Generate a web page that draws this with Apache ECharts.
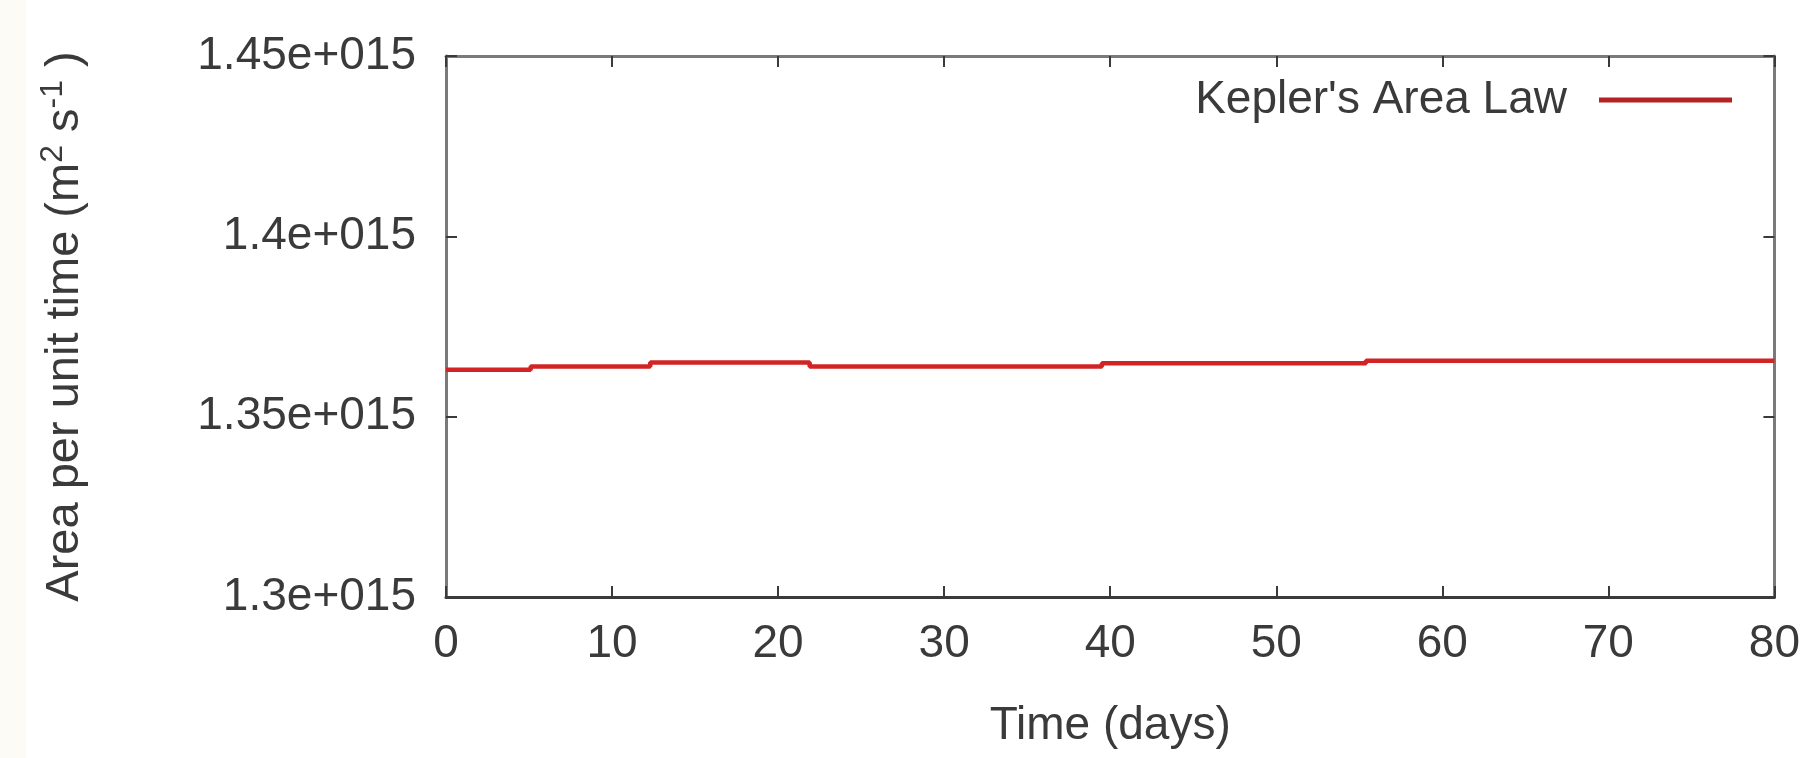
<!DOCTYPE html>
<html>
<head>
<meta charset="utf-8">
<script src="https://cdn.jsdelivr.net/npm/echarts@6/dist/echarts.min.js"></script>
<style>
  html, body { margin: 0; padding: 0; background: #fff; }
  #chart { width: 1803px; height: 758px; }
</style>
</head>
<body>
<div id="chart"></div>
<script>
// step boundaries (days) and the level held from each boundary to the next
var stepDays = [0, 5.1, 12.3, 21.9, 39.5, 55.4, 80];
var areaRate = [1.3630e15, 1.3639e15, 1.3650e15, 1.3639e15, 1.3648e15, 1.3655e15, 1.3655e15];
var seriesName = "Kepler's Area Law";

var font = 'Liberation Sans';
var textColor = '#3a3a3a';

var points = stepDays.map(function (d, i) { return [d, areaRate[i]]; });

function sci(v) {
  return parseFloat((v / 1e15).toFixed(3)) + 'e+015';
}

var chart = echarts.init(document.getElementById('chart'));
var option = {
  backgroundColor: '#ffffff',
  animation: false,
  graphic: [{
    type: 'rect', left: 0, top: 0, z: -10,
    shape: { width: 26, height: 758 },
    style: { fill: '#fdfbf5' }
  }],
  grid: { left: 446, right: 14, top: 56, bottom: 161 },
  legend: {
    right: 66,
    top: 70,
    align: 'right',
    icon: 'rect',
    itemWidth: 133,
    itemHeight: 5,
    itemStyle: { color: '#b42222' },
    data: [{ name: seriesName, itemStyle: { color: '#b42222' } }],
    textStyle: { fontFamily: font, fontSize: 46, color: textColor, lineHeight: 50, padding: [0, 27, 0, 0] }
  },
  xAxis: [{
    type: 'value',
    min: 0, max: 80, interval: 10,
    name: 'Time (days)',
    nameLocation: 'middle',
    nameGap: 106,
    nameTextStyle: { fontFamily: font, fontSize: 46, color: textColor },
    axisLine: { onZero: false, lineStyle: { color: '#3a3a3a', width: 3 } },
    axisTick: { inside: true, length: 11, lineStyle: { color: '#3a3a3a', width: 2 } },
    axisLabel: { margin: 24, fontFamily: font, fontSize: 46, color: textColor },
    splitLine: { show: false }
  }, {
    type: 'value',
    position: 'top',
    min: 0, max: 80, interval: 10,
    axisLine: { onZero: false, lineStyle: { color: '#7a7a7a', width: 3 } },
    axisTick: { inside: true, length: 11, lineStyle: { color: '#3a3a3a', width: 2 } },
    axisLabel: { show: false },
    splitLine: { show: false }
  }],
  yAxis: [{
    type: 'value',
    position: 'left',
    min: 1.3e15, max: 1.45e15, interval: 0.05e15,
    name: '{n|Area per unit time (m}{sup|2}{n| s}{sup|-1}{n| )}',
    nameLocation: 'middle',
    nameGap: 357,
    nameTextStyle: {
      rich: {
        n: { fontFamily: font, fontSize: 47, color: textColor, lineHeight: 52, verticalAlign: 'bottom' },
        sup: { fontFamily: font, fontSize: 32, color: textColor, lineHeight: 52, verticalAlign: 'top' }
      }
    },
    axisLine: { onZero: false, lineStyle: { color: '#7a7a7a', width: 3 } },
    axisTick: { inside: true, length: 11, lineStyle: { color: '#3a3a3a', width: 2 } },
    axisLabel: { margin: 30, fontFamily: font, fontSize: 46, color: textColor, formatter: sci },
    splitLine: { show: false }
  }, {
    type: 'value',
    position: 'right',
    min: 1.3e15, max: 1.45e15, interval: 0.05e15,
    axisLine: { onZero: false, lineStyle: { color: '#7a7a7a', width: 3 } },
    axisTick: { inside: true, length: 11, lineStyle: { color: '#3a3a3a', width: 2 } },
    axisLabel: { show: false },
    splitLine: { show: false }
  }],
  series: [{
    name: seriesName,
    type: 'line',
    step: 'end',
    xAxisIndex: 0,
    yAxisIndex: 0,
    showSymbol: false,
    itemStyle: { color: '#b42222' },
    lineStyle: { color: '#d22424', width: 4.5 },
    data: points
  }]
};
chart.setOption(option);
</script>
</body>
</html>
